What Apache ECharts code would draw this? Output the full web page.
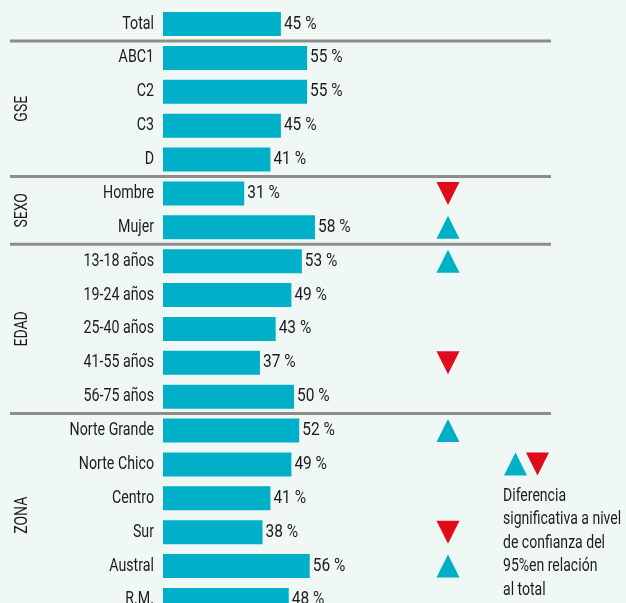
<!DOCTYPE html>
<html><head><meta charset="utf-8">
<script src="https://cdn.jsdelivr.net/npm/echarts@6/dist/echarts.min.js"></script>
<style>html,body{margin:0;padding:0;background:#f0f8f6;overflow:hidden;}#c{width:626px;height:640px;}</style>
</head><body><div id="c"></div>
<script>
const categories = ['Total','ABC1','C2','C3','D','Hombre','Mujer','13-18 años','19-24 años','25-40 años','41-55 años','56-75 años','Norte Grande','Norte Chico','Centro','Sur','Austral','R.M.'];
const values = [45,55,55,45,41,31,58,53,49,43,37,50,52,49,41,38,56,48];
const groupNames = ['GSE','SEXO','EDAD','ZONA'];
const groupFirst = ['ABC1','Hombre','13-18 años','Norte Grande'];
const groupLast = ['D','Mujer','56-75 años','R.M.'];
const sigUp = ['Mujer','13-18 años','Norte Grande','Austral'];
const sigDown = ['Hombre','41-55 años','Sur'];
const noteLines = ['Diferencia','significativa a nivel','de confianza del','95%en relación','al total'];

const FONT = "Roboto, 'Liberation Sans', sans-serif";
const FS = 18;
const TXT = '#1e1b1c', BAR = '#00b0c8', RED = '#e00a1a', SEP = '#8c8c8c';
const chart = echarts.init(document.getElementById('c'), null, {renderer:'canvas'});
const rowPitch = 33.875;
const gridTop = 24 - rowPitch/2;
const gridH = rowPitch * categories.length;
chart.setOption({
  backgroundColor: '#f0f8f6',
  animation: false,
  grid: [
    {left:163, width:262, top:gridTop, height:gridH},
    {left:436, width:24, top:gridTop, height:gridH}
  ],
  xAxis: [
    {type:'value', min:0, max:100, show:false, gridIndex:0},
    {type:'category', data:['sig'], show:false, gridIndex:1}
  ],
  yAxis: [
    {type:'category', data:categories, inverse:true, gridIndex:0,
     axisLine:{show:false}, axisTick:{show:false}, splitLine:{show:false}, axisLabel:{show:false}},
    {type:'category', data:categories, inverse:true, gridIndex:1, show:false}
  ],
  series: [
    {type:'bar', data:values, xAxisIndex:0, yAxisIndex:0, barWidth:24,
     itemStyle:{color:BAR}},
    {type:'scatter', xAxisIndex:1, yAxisIndex:1, symbol:'triangle', symbolSize:[23,23],
     itemStyle:{color:BAR, opacity:1}, data: sigUp.map(c => ['sig', c])},
    {type:'scatter', xAxisIndex:1, yAxisIndex:1, symbol:'triangle', symbolSize:[23,23], symbolRotate:180,
     itemStyle:{color:RED, opacity:1}, data: sigDown.map(c => ['sig', c])}
  ]
});

function yOf(cat){ return chart.convertToPixel({yAxisIndex:0}, cat); }
function xOf(v){ return chart.convertToPixel({xAxisIndex:0}, v); }
function txt(t, x, y, align, sx, rot){
  return {type:'text', x:x, y:y, rotation:rot||0, scaleX:sx, scaleY:1,
    style:{text:t, fill:TXT, font: FS + 'px ' + FONT, textAlign:align, textVerticalAlign:'middle'}};
}
const g = [];
categories.forEach((c, i) => {
  const y = yOf(c);
  g.push(txt(c, 154, y, 'right', 0.79));
  g.push(txt(values[i] + ' %', xOf(values[i]) + 3, y, 'left', 0.86));
});
groupFirst.forEach((first, i) => {
  const idx = categories.indexOf(first);
  const ySep = (yOf(categories[idx-1]) + yOf(first)) / 2;
  g.push({type:'line', shape:{x1:10, y1:ySep, x2:551, y2:ySep}, style:{stroke:SEP, lineWidth:3}});
  const yc = (yOf(first) + yOf(groupLast[i])) / 2;
  g.push(txt(groupNames[i], 22, yc, 'center', 0.78, Math.PI/2));
});
// legend
const ly = yOf('Norte Chico');
g.push({type:'polygon', shape:{points:[[504,ly+11],[527,ly+11],[515.5,ly-12]]}, style:{fill:BAR}});
g.push({type:'polygon', shape:{points:[[526,ly-12],[549,ly-12],[537.5,ly+11]]}, style:{fill:RED}});
noteLines.forEach((t, i) => {
  g.push(txt(t, 503, 496 + i*23.5, 'left', 0.78));
});
chart.setOption({graphic: g});
</script>
</body></html>
